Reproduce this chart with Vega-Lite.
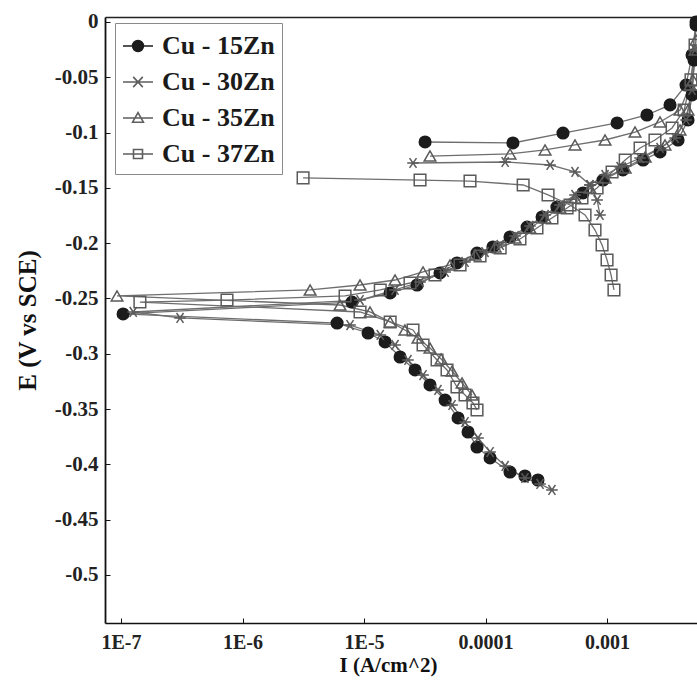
{
  "$schema": "https://vega.github.io/schema/vega-lite/v6.json",
  "autosize": "none",
  "padding": {"left": 105, "top": 17, "right": 0, "bottom": 58},
  "width": 592,
  "height": 606,
  "background": "white",
  "config": {
    "view": {"stroke": null},
    "font": "Liberation Serif",
    "axis": {"labelFont": "Liberation Serif", "titleFont": "Liberation Serif", "labelFontWeight": "bold", "titleFontWeight": "bold", "labelColor": "#222", "titleColor": "#111", "grid": false, "domainColor": "#111", "tickColor": "#111"}
  },
  "data": {"values": [
    {"s":"Cu - 15Zn","c":"15a","k":1,"I":2.7e-4,"E":-0.4141},
    {"s":"Cu - 15Zn","c":"15a","k":2,"I":2.11e-4,"E":-0.4105},
    {"s":"Cu - 15Zn","c":"15a","k":3,"I":1.59e-4,"E":-0.4069},
    {"s":"Cu - 15Zn","c":"15a","k":4,"I":1.09e-4,"E":-0.3942},
    {"s":"Cu - 15Zn","c":"15a","k":5,"I":8.51e-5,"E":-0.3843},
    {"s":"Cu - 15Zn","c":"15a","k":6,"I":7.18e-5,"E":-0.3707},
    {"s":"Cu - 15Zn","c":"15a","k":7,"I":5.94e-5,"E":-0.358},
    {"s":"Cu - 15Zn","c":"15a","k":8,"I":4.65e-5,"E":-0.3418},
    {"s":"Cu - 15Zn","c":"15a","k":9,"I":3.49e-5,"E":-0.3282},
    {"s":"Cu - 15Zn","c":"15a","k":10,"I":2.63e-5,"E":-0.3146},
    {"s":"Cu - 15Zn","c":"15a","k":11,"I":1.98e-5,"E":-0.3029},
    {"s":"Cu - 15Zn","c":"15a","k":12,"I":1.49e-5,"E":-0.2893},
    {"s":"Cu - 15Zn","c":"15a","k":13,"I":1.08e-5,"E":-0.2812},
    {"s":"Cu - 15Zn","c":"15a","k":14,"I":6.0e-6,"E":-0.2722},
    {"s":"Cu - 15Zn","c":"15a","k":15,"I":1.04e-7,"E":-0.264},
    {"s":"Cu - 15Zn","c":"15a","k":16,"I":7.96e-6,"E":-0.2532},
    {"s":"Cu - 15Zn","c":"15a","k":17,"I":1.64e-5,"E":-0.245},
    {"s":"Cu - 15Zn","c":"15a","k":18,"I":2.73e-5,"E":-0.2378},
    {"s":"Cu - 15Zn","c":"15a","k":19,"I":4.22e-5,"E":-0.2269},
    {"s":"Cu - 15Zn","c":"15a","k":20,"I":5.82e-5,"E":-0.2179},
    {"s":"Cu - 15Zn","c":"15a","k":21,"I":8.51e-5,"E":-0.2089},
    {"s":"Cu - 15Zn","c":"15a","k":22,"I":1.15e-4,"E":-0.2034},
    {"s":"Cu - 15Zn","c":"15a","k":23,"I":1.59e-4,"E":-0.1944},
    {"s":"Cu - 15Zn","c":"15a","k":24,"I":2.2e-4,"E":-0.1854},
    {"s":"Cu - 15Zn","c":"15a","k":25,"I":2.92e-4,"E":-0.1763},
    {"s":"Cu - 15Zn","c":"15a","k":26,"I":3.87e-4,"E":-0.1673},
    {"s":"Cu - 15Zn","c":"15a","k":27,"I":6.34e-4,"E":-0.1546},
    {"s":"Cu - 15Zn","c":"15a","k":28,"I":9.27e-4,"E":-0.1429},
    {"s":"Cu - 15Zn","c":"15a","k":29,"I":1.35e-3,"E":-0.1338},
    {"s":"Cu - 15Zn","c":"15a","k":30,"I":1.98e-3,"E":-0.1248},
    {"s":"Cu - 15Zn","c":"15a","k":31,"I":2.73e-3,"E":-0.1175},
    {"s":"Cu - 15Zn","c":"15a","k":32,"I":3.84e-3,"E":-0.1067},
    {"s":"Cu - 15Zn","c":"15a","k":33,"I":4.64e-3,"E":-0.0886},
    {"s":"Cu - 15Zn","c":"15a","k":34,"I":5.01e-3,"E":-0.066},
    {"s":"Cu - 15Zn","c":"15a","k":35,"I":5.2e-3,"E":-0.0344},
    {"s":"Cu - 15Zn","c":"15a","k":36,"I":5.4e-3,"E":-0.0027},
    {"s":"Cu - 15Zn","c":"15b","k":1,"I":3.18e-5,"E":-0.1085},
    {"s":"Cu - 15Zn","c":"15b","k":2,"I":1.68e-4,"E":-0.1094},
    {"s":"Cu - 15Zn","c":"15b","k":3,"I":4.34e-4,"E":-0.1004},
    {"s":"Cu - 15Zn","c":"15b","k":4,"I":1.21e-3,"E":-0.0913},
    {"s":"Cu - 15Zn","c":"15b","k":5,"I":2.13e-3,"E":-0.0841},
    {"s":"Cu - 15Zn","c":"15b","k":6,"I":3.3e-3,"E":-0.075},
    {"s":"Cu - 15Zn","c":"15b","k":7,"I":4.47e-3,"E":-0.057},
    {"s":"Cu - 15Zn","c":"15b","k":8,"I":5.01e-3,"E":-0.0298},
    {"s":"Cu - 15Zn","c":"15b","k":9,"I":5.4e-3,"E":0.0},
    {"s":"Cu - 30Zn","c":"30a","k":1,"I":3.52e-4,"E":-0.4231},
    {"s":"Cu - 30Zn","c":"30a","k":2,"I":2.81e-4,"E":-0.4177},
    {"s":"Cu - 30Zn","c":"30a","k":3,"I":2.11e-4,"E":-0.4123},
    {"s":"Cu - 30Zn","c":"30a","k":4,"I":1.45e-4,"E":-0.4014},
    {"s":"Cu - 30Zn","c":"30a","k":5,"I":1.09e-4,"E":-0.3888},
    {"s":"Cu - 30Zn","c":"30a","k":6,"I":8.67e-5,"E":-0.3761},
    {"s":"Cu - 30Zn","c":"30a","k":7,"I":6.78e-5,"E":-0.3617},
    {"s":"Cu - 30Zn","c":"30a","k":8,"I":5.3e-5,"E":-0.3463},
    {"s":"Cu - 30Zn","c":"30a","k":9,"I":4.06e-5,"E":-0.3327},
    {"s":"Cu - 30Zn","c":"30a","k":10,"I":3.06e-5,"E":-0.3192},
    {"s":"Cu - 30Zn","c":"30a","k":11,"I":2.3e-5,"E":-0.3056},
    {"s":"Cu - 30Zn","c":"30a","k":12,"I":1.8e-5,"E":-0.292},
    {"s":"Cu - 30Zn","c":"30a","k":13,"I":1.36e-5,"E":-0.283},
    {"s":"Cu - 30Zn","c":"30a","k":14,"I":7.67e-6,"E":-0.274},
    {"s":"Cu - 30Zn","c":"30a","k":15,"I":3.06e-7,"E":-0.2676},
    {"s":"Cu - 30Zn","c":"30a","k":16,"I":1.26e-7,"E":-0.2622},
    {"s":"Cu - 30Zn","c":"30a","k":17,"I":9.27e-6,"E":-0.2514},
    {"s":"Cu - 30Zn","c":"30a","k":18,"I":1.8e-5,"E":-0.2423},
    {"s":"Cu - 30Zn","c":"30a","k":19,"I":2.89e-5,"E":-0.2351},
    {"s":"Cu - 30Zn","c":"30a","k":20,"I":4.65e-5,"E":-0.226},
    {"s":"Cu - 30Zn","c":"30a","k":21,"I":6.78e-5,"E":-0.217},
    {"s":"Cu - 30Zn","c":"30a","k":22,"I":9.91e-5,"E":-0.208},
    {"s":"Cu - 30Zn","c":"30a","k":23,"I":1.32e-4,"E":-0.2016},
    {"s":"Cu - 30Zn","c":"30a","k":24,"I":1.75e-4,"E":-0.1935},
    {"s":"Cu - 30Zn","c":"30a","k":25,"I":2.32e-4,"E":-0.1844},
    {"s":"Cu - 30Zn","c":"30a","k":26,"I":3.09e-4,"E":-0.1745},
    {"s":"Cu - 30Zn","c":"30a","k":27,"I":4.1e-4,"E":-0.1655},
    {"s":"Cu - 30Zn","c":"30a","k":28,"I":5.45e-4,"E":-0.1564},
    {"s":"Cu - 30Zn","c":"30a","k":29,"I":7.24e-4,"E":-0.1474},
    {"s":"Cu - 30Zn","c":"30a","k":30,"I":9.63e-4,"E":-0.1383},
    {"s":"Cu - 30Zn","c":"30a","k":31,"I":1.28e-3,"E":-0.1311},
    {"s":"Cu - 30Zn","c":"30a","k":32,"I":1.87e-3,"E":-0.123},
    {"s":"Cu - 30Zn","c":"30a","k":33,"I":2.73e-3,"E":-0.1139},
    {"s":"Cu - 30Zn","c":"30a","k":34,"I":3.63e-3,"E":-0.1049},
    {"s":"Cu - 30Zn","c":"30a","k":35,"I":4.47e-3,"E":-0.0886},
    {"s":"Cu - 30Zn","c":"30a","k":36,"I":5.01e-3,"E":-0.0615},
    {"s":"Cu - 30Zn","c":"30a","k":37,"I":5.3e-3,"E":-0.0253},
    {"s":"Cu - 30Zn","c":"30b","k":1,"I":2.53e-5,"E":-0.1275},
    {"s":"Cu - 30Zn","c":"30b","k":2,"I":1.45e-4,"E":-0.1266},
    {"s":"Cu - 30Zn","c":"30b","k":3,"I":3.4e-4,"E":-0.1293},
    {"s":"Cu - 30Zn","c":"30b","k":4,"I":5.45e-4,"E":-0.1356},
    {"s":"Cu - 30Zn","c":"30b","k":5,"I":7.24e-4,"E":-0.1474},
    {"s":"Cu - 30Zn","c":"30b","k":6,"I":8.28e-4,"E":-0.1609},
    {"s":"Cu - 30Zn","c":"30b","k":7,"I":8.75e-4,"E":-0.1745},
    {"s":"Cu - 35Zn","c":"35a","k":1,"I":7.74e-5,"E":-0.3373},
    {"s":"Cu - 35Zn","c":"35a","k":2,"I":6.41e-5,"E":-0.3264},
    {"s":"Cu - 35Zn","c":"35a","k":3,"I":5.3e-5,"E":-0.3156},
    {"s":"Cu - 35Zn","c":"35a","k":4,"I":4.31e-5,"E":-0.3047},
    {"s":"Cu - 35Zn","c":"35a","k":5,"I":3.49e-5,"E":-0.2948},
    {"s":"Cu - 35Zn","c":"35a","k":6,"I":2.78e-5,"E":-0.2857},
    {"s":"Cu - 35Zn","c":"35a","k":7,"I":2.17e-5,"E":-0.2785},
    {"s":"Cu - 35Zn","c":"35a","k":8,"I":1.64e-5,"E":-0.2712},
    {"s":"Cu - 35Zn","c":"35a","k":9,"I":1.12e-5,"E":-0.2622},
    {"s":"Cu - 35Zn","c":"35a","k":10,"I":6.34e-6,"E":-0.2559},
    {"s":"Cu - 35Zn","c":"35a","k":11,"I":9.27e-8,"E":-0.2477},
    {"s":"Cu - 35Zn","c":"35a","k":12,"I":3.6e-6,"E":-0.2423},
    {"s":"Cu - 35Zn","c":"35a","k":13,"I":9.27e-6,"E":-0.2378},
    {"s":"Cu - 35Zn","c":"35a","k":14,"I":1.8e-5,"E":-0.2333},
    {"s":"Cu - 35Zn","c":"35a","k":15,"I":3.06e-5,"E":-0.226},
    {"s":"Cu - 35Zn","c":"35a","k":16,"I":5.1e-5,"E":-0.2197},
    {"s":"Cu - 35Zn","c":"35a","k":17,"I":8.2e-5,"E":-0.2107},
    {"s":"Cu - 35Zn","c":"35a","k":18,"I":1.2e-4,"E":-0.2034},
    {"s":"Cu - 35Zn","c":"35a","k":19,"I":1.75e-4,"E":-0.1953},
    {"s":"Cu - 35Zn","c":"35a","k":20,"I":2.32e-4,"E":-0.1863},
    {"s":"Cu - 35Zn","c":"35a","k":21,"I":3.09e-4,"E":-0.1772},
    {"s":"Cu - 35Zn","c":"35a","k":22,"I":4.1e-4,"E":-0.1682},
    {"s":"Cu - 35Zn","c":"35a","k":23,"I":5.45e-4,"E":-0.1591},
    {"s":"Cu - 35Zn","c":"35a","k":24,"I":7.24e-4,"E":-0.1501},
    {"s":"Cu - 35Zn","c":"35a","k":25,"I":9.63e-4,"E":-0.141},
    {"s":"Cu - 35Zn","c":"35a","k":26,"I":1.41e-3,"E":-0.132},
    {"s":"Cu - 35Zn","c":"35a","k":27,"I":2.06e-3,"E":-0.1221},
    {"s":"Cu - 35Zn","c":"35a","k":28,"I":3.0e-3,"E":-0.1112},
    {"s":"Cu - 35Zn","c":"35a","k":29,"I":3.99e-3,"E":-0.0976},
    {"s":"Cu - 35Zn","c":"35a","k":30,"I":4.64e-3,"E":-0.0796},
    {"s":"Cu - 35Zn","c":"35a","k":31,"I":5.1e-3,"E":-0.0524},
    {"s":"Cu - 35Zn","c":"35a","k":32,"I":5.4e-3,"E":-0.0163},
    {"s":"Cu - 35Zn","c":"35b","k":1,"I":3.49e-5,"E":-0.1212},
    {"s":"Cu - 35Zn","c":"35b","k":2,"I":1.59e-4,"E":-0.1193},
    {"s":"Cu - 35Zn","c":"35b","k":3,"I":3.09e-4,"E":-0.1157},
    {"s":"Cu - 35Zn","c":"35b","k":4,"I":5.45e-4,"E":-0.1112},
    {"s":"Cu - 35Zn","c":"35b","k":5,"I":9.63e-4,"E":-0.1067},
    {"s":"Cu - 35Zn","c":"35b","k":6,"I":1.7e-3,"E":-0.0995},
    {"s":"Cu - 35Zn","c":"35b","k":7,"I":2.73e-3,"E":-0.0904},
    {"s":"Cu - 35Zn","c":"35b","k":8,"I":3.99e-3,"E":-0.0796},
    {"s":"Cu - 35Zn","c":"35b","k":9,"I":4.82e-3,"E":-0.057},
    {"s":"Cu - 35Zn","c":"35b","k":10,"I":5.3e-3,"E":-0.0253},
    {"s":"Cu - 37Zn","c":"37a","k":1,"I":8.51e-5,"E":-0.3508},
    {"s":"Cu - 37Zn","c":"37a","k":2,"I":7.88e-5,"E":-0.3445},
    {"s":"Cu - 37Zn","c":"37a","k":3,"I":6.78e-5,"E":-0.3373},
    {"s":"Cu - 37Zn","c":"37a","k":4,"I":5.82e-5,"E":-0.33},
    {"s":"Cu - 37Zn","c":"37a","k":5,"I":4.82e-5,"E":-0.3146},
    {"s":"Cu - 37Zn","c":"37a","k":6,"I":3.99e-5,"E":-0.3056},
    {"s":"Cu - 37Zn","c":"37a","k":7,"I":3.06e-5,"E":-0.292},
    {"s":"Cu - 37Zn","c":"37a","k":8,"I":2.53e-5,"E":-0.2785},
    {"s":"Cu - 37Zn","c":"37a","k":9,"I":1.64e-5,"E":-0.2712},
    {"s":"Cu - 37Zn","c":"37a","k":10,"I":9.27e-6,"E":-0.2622},
    {"s":"Cu - 37Zn","c":"37a","k":11,"I":1.43e-7,"E":-0.2532},
    {"s":"Cu - 37Zn","c":"37a","k":12,"I":7.45e-7,"E":-0.2514},
    {"s":"Cu - 37Zn","c":"37a","k":13,"I":6.98e-6,"E":-0.2477},
    {"s":"Cu - 37Zn","c":"37a","k":14,"I":1.36e-5,"E":-0.2423},
    {"s":"Cu - 37Zn","c":"37a","k":15,"I":2.39e-5,"E":-0.236},
    {"s":"Cu - 37Zn","c":"37a","k":16,"I":3.84e-5,"E":-0.2288},
    {"s":"Cu - 37Zn","c":"37a","k":17,"I":6.17e-5,"E":-0.2197},
    {"s":"Cu - 37Zn","c":"37a","k":18,"I":9.01e-5,"E":-0.2116},
    {"s":"Cu - 37Zn","c":"37a","k":19,"I":1.32e-4,"E":-0.2043},
    {"s":"Cu - 37Zn","c":"37a","k":20,"I":1.92e-4,"E":-0.1962},
    {"s":"Cu - 37Zn","c":"37a","k":21,"I":2.65e-4,"E":-0.1863},
    {"s":"Cu - 37Zn","c":"37a","k":22,"I":3.52e-4,"E":-0.1772},
    {"s":"Cu - 37Zn","c":"37a","k":23,"I":4.69e-4,"E":-0.1682},
    {"s":"Cu - 37Zn","c":"37a","k":24,"I":6.22e-4,"E":-0.1591},
    {"s":"Cu - 37Zn","c":"37a","k":25,"I":8.28e-4,"E":-0.1501},
    {"s":"Cu - 37Zn","c":"37a","k":26,"I":1.1e-3,"E":-0.1356},
    {"s":"Cu - 37Zn","c":"37a","k":27,"I":1.41e-3,"E":-0.1248},
    {"s":"Cu - 37Zn","c":"37a","k":28,"I":1.87e-3,"E":-0.1139},
    {"s":"Cu - 37Zn","c":"37a","k":29,"I":2.48e-3,"E":-0.1067},
    {"s":"Cu - 37Zn","c":"37a","k":30,"I":3.43e-3,"E":-0.0958},
    {"s":"Cu - 37Zn","c":"37a","k":31,"I":4.31e-3,"E":-0.0796},
    {"s":"Cu - 37Zn","c":"37a","k":32,"I":4.91e-3,"E":-0.0524},
    {"s":"Cu - 37Zn","c":"37a","k":33,"I":5.3e-3,"E":-0.0208},
    {"s":"Cu - 37Zn","c":"37b","k":1,"I":3.15e-6,"E":-0.141},
    {"s":"Cu - 37Zn","c":"37b","k":2,"I":2.89e-5,"E":-0.1429},
    {"s":"Cu - 37Zn","c":"37b","k":3,"I":7.45e-5,"E":-0.1438},
    {"s":"Cu - 37Zn","c":"37b","k":4,"I":2.04e-4,"E":-0.1474},
    {"s":"Cu - 37Zn","c":"37b","k":5,"I":3.27e-4,"E":-0.1564},
    {"s":"Cu - 37Zn","c":"37b","k":6,"I":4.96e-4,"E":-0.1655},
    {"s":"Cu - 37Zn","c":"37b","k":7,"I":6.59e-4,"E":-0.1745},
    {"s":"Cu - 37Zn","c":"37b","k":8,"I":7.96e-4,"E":-0.1881},
    {"s":"Cu - 37Zn","c":"37b","k":9,"I":9.1e-4,"E":-0.2016},
    {"s":"Cu - 37Zn","c":"37b","k":10,"I":1.0e-3,"E":-0.2152},
    {"s":"Cu - 37Zn","c":"37b","k":11,"I":1.08e-3,"E":-0.2288},
    {"s":"Cu - 37Zn","c":"37b","k":12,"I":1.14e-3,"E":-0.2423}
  ]},
  "resolve": {"scale": {"shape": "independent", "fill": "independent", "stroke": "independent"}, "axis": {"x": "independent"}},
  "layer": [
    {
      "mark": {"type": "line", "color": "#6e6e6e", "strokeWidth": 1.3},
      "encoding": {
        "x": {"field": "I", "type": "quantitative",
          "scale": {"type": "log", "domain": [7.38e-8, 5.5e-3], "nice": false},
          "axis": {"orient": "bottom", "values": [1e-7, 1e-6, 1e-5, 1e-4, 1e-3],
            "labelExpr": "round(log(datum.value)/LN10) <= -5 ? '1E' + round(log(datum.value)/LN10) : (round(log(datum.value)/LN10) == -4 ? '0.0001' : '0.001')",
            "labelFontSize": 20, "tickSize": -5, "labelPadding": 14, "domainWidth": 1.5,
            "title": "I (A/cm^2)", "titleFontSize": 21, "titlePadding": 2, "titleX": 283}},
        "y": {"field": "E", "type": "quantitative",
          "scale": {"domain": [-0.5434, 0.0045], "nice": false, "zero": false},
          "axis": {"values": [0, -0.05, -0.1, -0.15, -0.2, -0.25, -0.3, -0.35, -0.4, -0.45, -0.5],
            "labelExpr": "datum.value == 0 ? '0' : '-' + format(-datum.value, '.2~f')",
            "labelFontSize": 21, "tickSize": -5, "labelPadding": 12, "domainWidth": 1.8,
            "title": "E (V vs SCE)", "titleFontSize": 25, "titlePadding": 14}},
        "detail": {"field": "c"},
        "order": {"field": "k", "type": "quantitative"}
      }
    },
    {
      "mark": {"type": "point", "strokeWidth": 1.5, "opacity": 1},
      "encoding": {
        "x": {"field": "I", "type": "quantitative", "axis": null},
        "y": {"field": "E", "type": "quantitative"},
        "size": {"value": 135},
        "shape": {"field": "s", "type": "nominal", "legend": null,
          "scale": {"domain": ["Cu - 15Zn", "Cu - 30Zn", "Cu - 35Zn", "Cu - 37Zn"],
            "range": ["circle", "M-1,0L1,0M-0.6,-0.85L0.6,0.85M-0.6,0.85L0.6,-0.85", "triangle-up", "square"]}},
        "fill": {"field": "s", "type": "nominal", "legend": null,
          "scale": {"domain": ["Cu - 15Zn", "Cu - 30Zn", "Cu - 35Zn", "Cu - 37Zn"],
            "range": ["#1c1c1c", "transparent", "transparent", "transparent"]}},
        "stroke": {"field": "s", "type": "nominal", "legend": null,
          "scale": {"domain": ["Cu - 15Zn", "Cu - 30Zn", "Cu - 35Zn", "Cu - 37Zn"],
            "range": ["#1c1c1c", "#5a5a5a", "#5a5a5a", "#5a5a5a"]}}
      }
    },
    {
      "transform": [{"filter": "datum.E > 1"}],
      "mark": {"type": "point", "strokeWidth": 1.6, "opacity": 1},
      "encoding": {
        "x": {"field": "I", "type": "quantitative",
          "axis": {"orient": "top", "labels": false, "ticks": false, "title": null, "domainWidth": 1.5, "domainColor": "#222"}},
        "y": {"field": "E", "type": "quantitative"},
        "shape": {"field": "s", "type": "nominal",
          "scale": {"domain": ["Cu - 15Zn", "Cu - 30Zn", "Cu - 35Zn", "Cu - 37Zn"],
            "range": [
              "M-1,0L1,0M0.36,0A0.36,0.36,0,1,1,-0.36,0A0.36,0.36,0,1,1,0.36,0Z",
              "M-1,0L1,0M-0.32,-0.34L0.32,0.34M-0.32,0.34L0.32,-0.34",
              "M-1,0L1,0M0,-0.36L0.36,0.28L-0.36,0.28Z",
              "M-1,0L1,0M-0.3,-0.3L0.3,-0.3L0.3,0.3L-0.3,0.3Z"]},
          "legend": {"title": null, "orient": "none", "legendX": 10, "legendY": 6, "padding": 7,
            "strokeColor": "#8a8a8a", "fillColor": "white",
            "labelFont": "Liberation Serif", "labelFontWeight": "bold", "labelFontSize": 26, "labelColor": "#1a1a1a",
            "symbolSize": 900, "symbolStrokeWidth": 1.6, "rowPadding": 7, "labelOffset": 8, "labelLimit": 300,
            "encode": {"legend": {"update": {"strokeWidth": {"value": 2.5}}}}}},
        "fill": {"field": "s", "type": "nominal",
          "scale": {"domain": ["Cu - 15Zn", "Cu - 30Zn", "Cu - 35Zn", "Cu - 37Zn"],
            "range": ["#1c1c1c", "transparent", "transparent", "transparent"]},
          "legend": {"title": null, "orient": "none", "legendX": 10, "legendY": 6}},
        "stroke": {"field": "s", "type": "nominal",
          "scale": {"domain": ["Cu - 15Zn", "Cu - 30Zn", "Cu - 35Zn", "Cu - 37Zn"],
            "range": ["#1c1c1c", "#5e5e5e", "#5e5e5e", "#5e5e5e"]},
          "legend": {"title": null, "orient": "none", "legendX": 10, "legendY": 6}}
      }
    }
  ]
}
